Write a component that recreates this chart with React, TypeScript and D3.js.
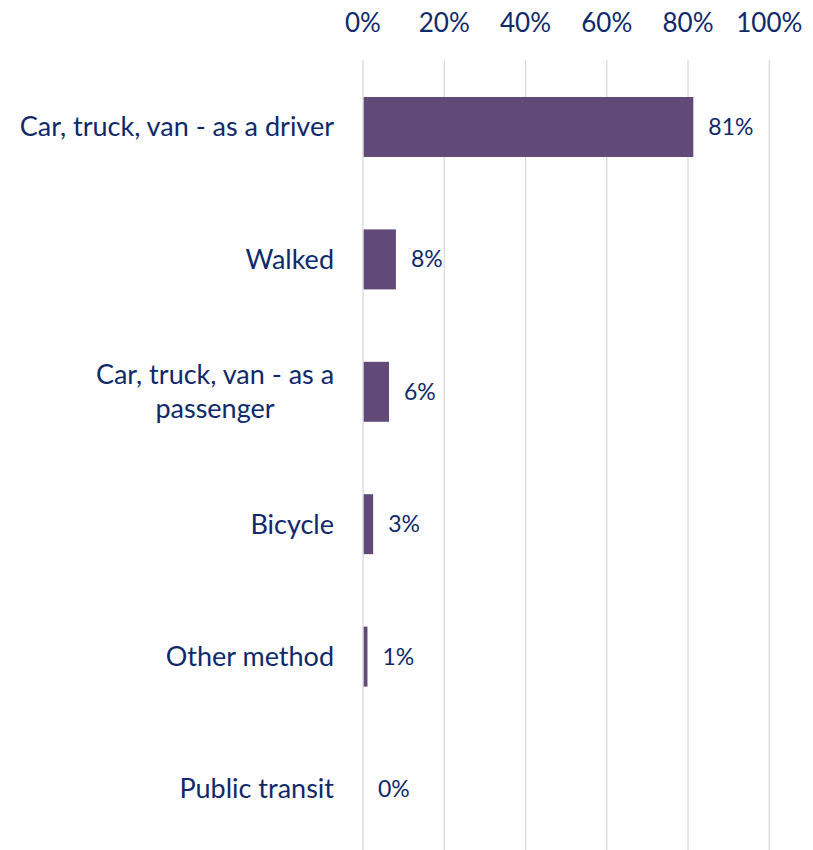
import { useEffect, useRef } from 'react';
import * as d3 from 'd3';

const categories = [
  'Car, truck, van - as a driver',
  'Walked',
  'Car, truck, van - as a passenger',
  'Bicycle',
  'Other method',
  'Public transit',
];
// share of commuters, percent
const values = [81.3, 8.1, 6.4, 2.5, 1.1, 0];
const valueLabels = ['81%', '8%', '6%', '3%', '1%', '0%'];
const ticks = [0, 20, 40, 60, 80, 100];
// wrapped lines for long labels
const labelLines: Record<string, string[]> = {
  'Car, truck, van - as a passenger': ['Car, truck, van - as a', 'passenger'],
};

const W = 813;
const H = 850;
const BAR = '#614a78';
const TEXT = '#10296b';
const GRID = '#d9d9d9';
const FONT = 'Lato, "Liberation Sans", sans-serif';

export default function App() {
  const ref = useRef<SVGSVGElement>(null);

  useEffect(() => {
    document.body.style.margin = '0';
    const svg = d3.select(ref.current);
    svg.selectAll('*').remove();

    const x = d3.scaleLinear().domain([0, 100]).range([363, 769.3]);
    const y = d3.scaleBand<string>()
      .domain(categories)
      .range([60.8, 855.2])
      .paddingInner(0.547)
      .paddingOuter(0.2735);

    // gridlines
    svg.append('g')
      .selectAll('line')
      .data(ticks)
      .join('line')
      .attr('x1', (d) => x(d))
      .attr('x2', (d) => x(d))
      .attr('y1', 60)
      .attr('y2', H)
      .attr('stroke', GRID)
      .attr('stroke-width', 1.3);

    // top tick labels
    svg.append('g')
      .selectAll('text')
      .data(ticks)
      .join('text')
      .attr('x', (d) => x(d))
      .attr('y', 32)
      .attr('text-anchor', 'middle')
      .attr('font-family', FONT)
      .attr('font-size', 26)
      .attr('fill', TEXT)
      .text((d) => `${d}%`);

    // bars
    svg.append('g')
      .selectAll('rect')
      .data(categories)
      .join('rect')
      .attr('x', x(0) + 0.7)
      .attr('y', (d) => y(d) ?? 0)
      .attr('width', (_, i) => Math.max(0, x(values[i]) - x(0) - 0.7))
      .attr('height', y.bandwidth())
      .attr('fill', BAR);

    // value labels
    svg.append('g')
      .selectAll('text')
      .data(categories)
      .join('text')
      .attr('x', (_, i) => x(values[i]) + 15)
      .attr('y', (d) => (y(d) ?? 0) + y.bandwidth() / 2)
      .attr('dy', '0.35em')
      .attr('font-family', FONT)
      .attr('font-size', 23)
      .attr('fill', TEXT)
      .text((_, i) => valueLabels[i]);

    // category labels
    const cat = svg.append('g');
    categories.forEach((c) => {
      const cy = (y(c) ?? 0) + y.bandwidth() / 2;
      const lines = labelLines[c];
      if (!lines) {
        cat.append('text')
          .attr('x', 334)
          .attr('y', cy)
          .attr('dy', '0.35em')
          .attr('text-anchor', 'end')
          .attr('font-family', FONT)
          .attr('font-size', 27)
          .attr('fill', TEXT)
          .text(c);
      } else {
        const lh = 34;
        lines.forEach((ln, j) => {
          cat.append('text')
            .attr('x', 215)
            .attr('y', cy + (j - (lines.length - 1) / 2) * lh)
            .attr('dy', '0.35em')
            .attr('text-anchor', 'middle')
            .attr('font-family', FONT)
            .attr('font-size', 27)
            .attr('fill', TEXT)
            .text(ln);
        });
      }
    });
  }, []);

  return (
    <div style={{ position: 'absolute', left: 0, top: 0 }}>
      <svg ref={ref} width={W} height={H} style={{ display: 'block', background: '#fff' }} />
    </div>
  );
}
